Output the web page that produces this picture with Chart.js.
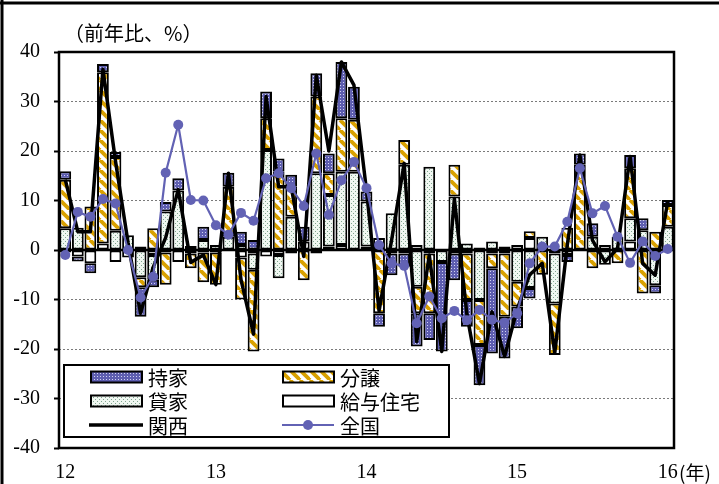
<!DOCTYPE html>
<html><head><meta charset="utf-8">
<script src="https://cdn.jsdelivr.net/npm/chart.js@4.4.0/dist/chart.umd.min.js"></script>
<style>html,body{margin:0;padding:0;background:#fff;}#wrap{position:relative;width:719px;height:484px;}</style>
</head><body><div id="wrap"><canvas id="c" width="719" height="484"></canvas></div>
<script>
const months = ['12/1','12/2','12/3','12/4','12/5','12/6','12/7','12/8','12/9','12/10','12/11','12/12',
'13/1','13/2','13/3','13/4','13/5','13/6','13/7','13/8','13/9','13/10','13/11','13/12',
'14/1','14/2','14/3','14/4','14/5','14/6','14/7','14/8','14/9','14/10','14/11','14/12',
'15/1','15/2','15/3','15/4','15/5','15/6','15/7','15/8','15/9','15/10','15/11','15/12','16/1'];
const yearLabels = ['12','13','14','15','16'];
const yAxisTitle = '（前年比、%）';
const xAxisUnit = '(年)';
// 給与住宅
const kyuyo = [-0.5,-1.3,-2.7,1.3,-2.4,-1.5,0.7,-1.0,-0.5,-2.4,-0.7,-0.5,
 -0.5,0,-1.5,-0.7,-1.3,-1.0,-0.7,1.7,-0.7,0.7,1.0,0,
 0.7,2.4,-0.7,-0.7,1.0,-0.7,0,-0.7,-0.7,0.5,-0.7,-0.7,
 1.0,2.4,0,-0.7,-1.0,0,0,1.0,0,1.7,0,0,0];
// 貸家
const kashiya = [4.4,4.5,0,0,3.9,3.0,-5.5,-5.0,7.8,12.0,0,2.0,
 1.0,2.7,1.0,-3.3,20.2,-4.7,6.7,0,15.5,10.4,14.8,15.8,
 9.1,0,7.4,17.2,-7.4,16.8,-2.4,10.8,1.3,-10.1,1.7,0.7,
 -6.4,-7.7,2.7,-10.1,0,0,2.7,-3.0,2.7,4.7,4.0,-7.1,4.7];
// 分譲
const bunjo = [9.8,0,8.8,34.6,14.9,0,-2.0,4.4,-6.5,0,-3.0,-6.0,
 -6.5,10.1,-8.5,-16.5,6.4,15.8,6.1,-6.1,15.5,4.4,10.8,10.5,
 0,-12.8,0,5.0,-5.4,-12.1,0,6.4,-9.4,-9.1,-3.0,-12.8,
 -5.0,1.4,-5.0,-10.4,4.5,17.2,-3.7,0,-2.7,10.1,-8.8,3.7,4.4];
// 持家
const mochiie = [1.7,-1.0,-2.0,1.7,1.0,0,-6.0,-1.5,1.9,2.5,0.8,2.7,
 0,2.8,2.7,2.0,5.4,2.7,2.4,3.0,4.7,4.0,11.4,6.7,
 2.0,-2.7,-4.4,-2.7,-6.7,-5.4,-18.1,-5.4,-5.4,-8.1,-17.2,-8.4,
 -4.4,-2.1,0,0,-1.4,2.3,2.7,0,0,2.7,2.4,-1.7,1.0];
// 関西
const kansai = [14.2,3.7,3.7,36.5,18,1.5,-12.8,-3.5,2.5,12.2,-2.5,-1.0,
 -7.0,15.5,-6,-17,31,12.8,12.8,-1.3,35.3,20,38,33.3,
 12.0,-12.3,2,17.5,-18.5,-1.0,-20.5,10.4,-13,-27,-12.5,-21.5,
 -12,-5,-2.7,-20.8,1.0,19.2,2.0,-2.4,0.3,18.9,-2.7,-5.1,9.8];
// 全国
const zenkoku = [-1.0,7.7,6.7,10.3,9.4,0,-9.6,-5.4,15.6,25.3,10.1,10.0,
 5.0,3.1,7.5,5.9,14.5,15.5,12.5,8.9,19.5,7.1,14.1,17.8,
 12.5,1.0,-2.7,-3.2,-14.8,-9.4,-13.8,-12.3,-14.2,-12.1,-14.1,-14.7,
 -12.8,-2.7,0.7,0.7,5.7,16.5,7.4,8.9,2.7,-2.6,1.7,-1.2,0.2];

const BLUE = '#6262b4';
function makePattern(kind){
  const c = document.createElement('canvas'); const x = c.getContext('2d');
  if (kind === 'mochi') { c.width = c.height = 3; x.fillStyle = '#5e5eb0'; x.fillRect(0,0,3,3); x.fillStyle = '#d2d2f2'; x.fillRect(1,1,1,1); }
  else if (kind === 'kashi') { c.width = c.height = 4; x.fillStyle = '#f0f7f1'; x.fillRect(0,0,4,4); x.fillStyle = '#7ea58e'; x.fillRect(1,1,1,1); x.fillRect(3,3,1,1); }
  else if (kind === 'bunjo') { c.width = c.height = 10; x.fillStyle = '#fff'; x.fillRect(0,0,10,10); x.strokeStyle = '#d9a100'; x.lineWidth = 3.8;
    for (let k = -10; k <= 10; k += 10) { x.beginPath(); x.moveTo(k,0); x.lineTo(k+10,10); x.stroke(); } }
  return x.createPattern(c,'repeat');
}
const ctx0 = document.getElementById('c').getContext('2d');
const pat = { mochi: makePattern('mochi'), kashi: makePattern('kashi'), bunjo: makePattern('bunjo') };
const nz = a => a.map(v => v === 0 ? null : v);
const barBase = { type:'bar', borderColor:'#000', borderWidth:2, borderSkipped:false, order:2, barPercentage:0.94, categoryPercentage:1, stack:'bars' };
const serif = '"Liberation Serif","Times New Roman",serif';
const jp = '"Noto Sans CJK JP","Noto Sans",sans-serif';

const deco = {
  id:'deco',
  beforeDatasetDraw(chart, args){
    if (args.meta.type === 'line' && chart.data.datasets[args.index].label === '関西') {
      const c = chart.ctx, a = chart.chartArea, y0 = chart.scales.y.getPixelForValue(0);
      c.save(); c.strokeStyle = '#000'; c.lineWidth = 2.5; c.beginPath(); c.moveTo(a.left, y0); c.lineTo(a.right, y0); c.stroke(); c.restore();
    }
  },
  afterDraw(chart){
    const c = chart.ctx, a = chart.chartArea;
    c.save();
    c.strokeStyle = '#000'; c.lineWidth = 2.5; c.strokeRect(a.left, a.top, a.right - a.left, a.bottom - a.top);
    c.lineWidth = 3; c.beginPath(); c.moveTo(0, 3); c.lineTo(719, 3); c.moveTo(2, 0); c.lineTo(2, 484); c.stroke();
    c.fillStyle = '#000'; c.textBaseline = 'middle'; c.textAlign = 'left';
    c.font = '20px ' + jp; c.fillText(yAxisTitle, 64, 33);
    c.font = '19px ' + jp; c.fillText(xAxisUnit, 679, 473);
    // legend
    c.fillStyle = '#fff'; c.fillRect(64, 365, 385, 72);
    c.lineWidth = 2; c.strokeStyle = '#000'; c.strokeRect(64, 365, 385, 72);
    const ds = chart.data.datasets;
    const byLabel = l => ds.find(d => d.label === l);
    const items = [['持家',91,377],['分譲',283,377],['貸家',91,401],['給与住宅',283,401]];
    c.font = '20px ' + jp;
    items.forEach(([l,x,y]) => {
      c.fillStyle = byLabel(l).backgroundColor; c.fillRect(x, y-5.5, 51, 11);
      c.lineWidth = 2; c.strokeStyle = '#000'; c.strokeRect(x, y-5.5, 51, 11);
      c.fillStyle = '#000'; c.fillText(l, x + 57, y + 1);
    });
    c.strokeStyle = '#000'; c.lineWidth = 3.5; c.beginPath(); c.moveTo(89, 425); c.lineTo(143, 425); c.stroke();
    c.fillStyle = '#000'; c.fillText('関西', 148, 426);
    c.strokeStyle = BLUE; c.lineWidth = 2; c.beginPath(); c.moveTo(282, 425); c.lineTo(334, 425); c.stroke();
    c.fillStyle = BLUE; c.beginPath(); c.arc(308, 425, 5, 0, Math.PI*2); c.fill();
    c.fillStyle = '#000'; c.fillText('全国', 340, 426);
    c.restore();
  }
};

new Chart(ctx0, {
  data: {
    labels: months,
    datasets: [
      Object.assign({}, barBase, { label:'給与住宅', data: nz(kyuyo), backgroundColor:'#ffffff' }),
      Object.assign({}, barBase, { label:'貸家', data: nz(kashiya), backgroundColor: pat.kashi }),
      Object.assign({}, barBase, { label:'分譲', data: nz(bunjo), backgroundColor: pat.bunjo }),
      Object.assign({}, barBase, { label:'持家', data: nz(mochiie), backgroundColor: pat.mochi }),
      { type:'line', label:'関西', data: kansai, borderColor:'#000', borderWidth:3.5, pointRadius:0, order:1, stack:'k', borderJoinStyle:'round', tension:0 },
      { type:'line', label:'全国', data: zenkoku, borderColor: BLUE, borderWidth:2.2, pointRadius:5, pointBackgroundColor: BLUE, pointBorderWidth:0, order:0, stack:'z', tension:0 }
    ]
  },
  options: {
    responsive:false, animation:false, events:[], devicePixelRatio:1,
    layout:{ padding:{ left:0, top:52, right:45, bottom:0 } },
    plugins:{ legend:{ display:false }, tooltip:{ enabled:false } },
    scales:{
      x:{ stacked:true, grid:{ display:false, drawTicks:false }, border:{ display:false },
          ticks:{ autoSkip:false, maxRotation:0, padding:13, color:'#000', font:{ family:serif, size:20 },
                  callback:(v,i) => i % 12 === 0 ? yearLabels[i/12] : '' },
          afterFit(s){ s.height = 36; } },
      y:{ stacked:true, min:-40, max:40,
          grid:{ color: c => (c.tick && (c.tick.value === 0 || Math.abs(c.tick.value) === 40)) ? 'rgba(0,0,0,0)' : '#7a7a7a',
                 lineWidth:1, drawTicks:true, tickLength:5, tickColor:'#000', tickWidth:2, tickBorderDash:[] },
          border:{ display:false, dash:[2,2] },
          ticks:{ stepSize:10, padding:14, color:'#000', font:{ family:serif, size:20 } },
          afterFit(s){ s.width = 59; } }
    }
  },
  plugins:[deco]
});
</script></body></html>
